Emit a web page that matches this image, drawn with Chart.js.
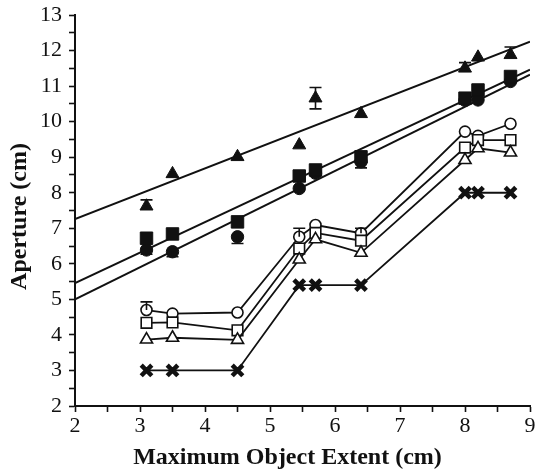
<!DOCTYPE html>
<html>
<head>
<meta charset="utf-8">
<script src="https://cdn.jsdelivr.net/npm/chart.js@4/dist/chart.umd.min.js"></script>
<style>
  html, body { margin: 0; padding: 0; background: #fff; }
  #wrap { width: 536px; height: 472px; }
</style>
</head>
<body>
<div id="wrap"><canvas id="chart" width="536" height="472"></canvas></div>
<script>
// object extents (cm)
const xVals = [3.1, 3.5, 4.5, 5.45, 5.7, 6.4, 8.0, 8.2, 8.7];

// apertures (cm)
const filledTri  = [7.62, 8.53, 9.01, 9.34, 10.66, 10.22, 11.50, 11.81, 11.88];
const filledSq   = [6.72, 6.84, 7.18, 8.47, 8.64, 9.01, 10.66, 10.89, 11.27];
const filledCirc = [6.39, 6.34, 6.76, 8.12, 8.55, 8.87, 10.60, 10.61, 11.13];
const openCirc   = [4.70, 4.60, 4.63, 6.76, 7.09, 6.86, 9.72, 9.60, 9.94];
const openSq     = [4.34, 4.35, 4.13, 6.43, 6.87, 6.65, 9.27, 9.48, 9.48];
const openTri    = [3.87, 3.92, 3.86, 6.12, 6.69, 6.31, 8.92, 9.25, 9.13];
const crosses    = [3.0, 3.0, 3.0, 5.4, 5.4, 5.4, 8.0, 8.0, 8.0];

// error bar sizes (up / down), 0 = none drawn
const filledTriUp    = [0.18, 0, 0, 0, 0.30, 0, 0.16, 0, 0.22];
const filledTriDown  = [0, 0, 0, 0, 0.30, 0, 0, 0, 0];
const filledCircDown = [0.12, 0.14, 0.19, 0, 0, 0.17, 0, 0, 0];
const openCircUp     = [0.23, 0, 0, 0.24, 0, 0.14, 0, 0, 0];

// regression lines, end points at x = 2 and x = 9
const trendX    = [2, 9];
const trendTri  = [7.26, 12.25];
const trendSq   = [5.46, 11.46];
const trendCirc = [5.0, 11.32];

const yTicks = [2, 3, 4, 5, 6, 7, 8, 9, 10, 11, 12, 13];
const xTicks = [2, 3, 4, 5, 6, 7, 8, 9];

function pts(xs, ys) {
    return xs.map((x, i) => ({ x: x, y: ys[i] }));
}

const markerSet = (data, style, radius, filled, extra) => Object.assign({
    data: pts(xVals, data),
    pointStyle: style,
    pointRadius: radius,
    pointHoverRadius: radius,
    pointBackgroundColor: filled ? '#111' : '#fff',
    pointBorderColor: '#111',
    pointBorderWidth: filled ? 1 : 1.6,
    borderColor: '#111',
    borderWidth: 1.8,
    showLine: false
}, extra || {});

const trendSet = (ys) => ({
    data: pts(trendX, ys),
    showLine: true,
    borderColor: '#111',
    borderWidth: 2,
    pointRadius: 0,
    pointHoverRadius: 0
});

// caps drawn from the y scale
const errorBars = {
    id: 'errorBars',
    afterDatasetsDraw(chart) {
        const { ctx, scales: { x, y } } = chart;
        ctx.save();
        ctx.strokeStyle = '#111';
        ctx.lineWidth = 1.6;
        chart.data.datasets.forEach(ds => {
            const up = ds.errUp || [];
            const down = ds.errDown || [];
            ds.data.forEach((p, i) => {
                const px = x.getPixelForValue(p.x);
                [[up[i], 1], [down[i], -1]].forEach(([e, dir]) => {
                    if (!e) return;
                    const py0 = y.getPixelForValue(p.y);
                    const py1 = y.getPixelForValue(p.y + dir * e);
                    ctx.beginPath();
                    ctx.moveTo(px, py0);
                    ctx.lineTo(px, py1);
                    ctx.moveTo(px - 6, py1);
                    ctx.lineTo(px + 6, py1);
                    ctx.stroke();
                });
            });
        });
        ctx.restore();
    }
};

const tickFont = { family: '"Liberation Serif", "DejaVu Serif", serif', size: 22 };
const titleFont = { family: '"Liberation Serif", "DejaVu Serif", serif', size: 24, weight: 'bold' };

new Chart(document.getElementById('chart'), {
    type: 'scatter',
    data: {
        datasets: [
            markerSet(crosses, 'crossRot', 7.5, true, { showLine: true, pointBorderWidth: 4.5 }),
            markerSet(openTri, 'triangle', 7, false, { showLine: true }),
            markerSet(openSq, 'rect', 7.5, false, { showLine: true }),
            markerSet(openCirc, 'circle', 5.5, false, { showLine: true, errUp: openCircUp }),
            markerSet(filledTri, 'triangle', 7.5, true, { errUp: filledTriUp, errDown: filledTriDown }),
            markerSet(filledSq, 'rect', 8.8, true),
            markerSet(filledCirc, 'circle', 6.2, true, { errDown: filledCircDown }),
            trendSet(trendTri),
            trendSet(trendSq),
            trendSet(trendCirc)
        ]
    },
    options: {
        responsive: false,
        animation: false,
        events: [],
        // no auto padding for marker overflow, the plot runs almost to the right edge
        layout: { autoPadding: false, padding: { left: 0, right: 6, top: 15, bottom: 0 } },
        plugins: { legend: { display: false }, tooltip: { enabled: false } },
        scales: {
            x: {
                type: 'linear',
                min: 2, max: 9,
                afterBuildTicks(axis) {
                    axis.ticks = [];
                    for (let i = 0; i < xTicks.length; i++) {
                        axis.ticks.push({ value: xTicks[i] });
                        if (i < xTicks.length - 1) axis.ticks.push({ value: xTicks[i] + 0.5 });
                    }
                },
                afterFit(axis) {
                    axis.height = 66;
                    axis.paddingLeft = 0;
                    axis.paddingRight = 0;
                },
                border: { color: '#111', width: 2 },
                grid: { drawOnChartArea: false, tickLength: 6, tickColor: '#111', tickWidth: 1.6 },
                ticks: {
                    autoSkip: false, maxRotation: 0, color: '#111', font: tickFont, padding: 1,
                    callback: v => Number.isInteger(v) ? v : ''
                },
                // trailing spaces nudge the centred title a little to the left
                title: { display: true, text: 'Maximum Object Extent (cm)\u00a0\u00a0\u00a0\u00a0\u00a0', color: '#111', font: titleFont, padding: { top: 0, bottom: 0 } }
            },
            y: {
                type: 'linear',
                min: 2, max: 13,
                afterBuildTicks(axis) {
                    axis.ticks = [];
                    for (let i = 0; i < yTicks.length; i++) {
                        axis.ticks.push({ value: yTicks[i] });
                        if (i < yTicks.length - 1) axis.ticks.push({ value: yTicks[i] + 0.5 });
                    }
                },
                afterFit(axis) {
                    axis.width = 75;
                    axis.paddingTop = 0;
                    axis.paddingBottom = 0;
                },
                border: { color: '#111', width: 2 },
                grid: { drawOnChartArea: false, tickLength: 6, tickColor: '#111', tickWidth: 1.6 },
                ticks: {
                    autoSkip: false, color: '#111', font: tickFont, padding: 7,
                    callback: v => Number.isInteger(v) ? v : ''
                },
                title: { display: true, text: 'Aperture (cm)\u00a0\u00a0', color: '#111', font: titleFont, padding: { top: 5, bottom: 0 } }
            }
        }
    },
    plugins: [errorBars]
});
</script>
</body>
</html>
